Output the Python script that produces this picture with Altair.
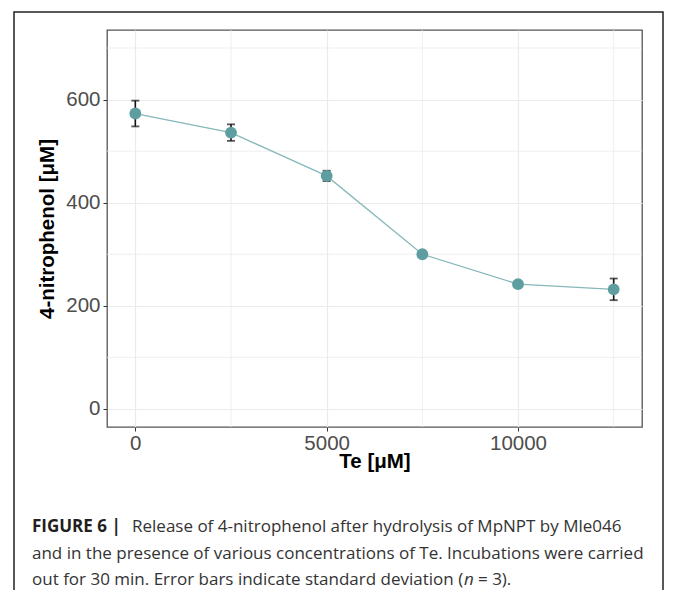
import altair as alt
import pandas as pd

# ---- data ----
te_um = [0, 2500, 5000, 7500, 10000, 12500]
nitrophenol = [573, 536, 452, 300, 242, 232]
sd = [25, 16, 10, 3, 4, 21]

y_major = [0, 200, 400, 600]
y_minor = [100, 300, 500, 700]
x_major = [0, 5000, 10000]
x_minor = [2500, 7500, 12500]

caption_bold = "FIGURE 6 |"
caption_lines = [
    "Release of 4-nitrophenol after hydrolysis of MpNPT by Mle046",
    "and in the presence of various concentrations of Te. Incubations were carried",
    "out for 30 min. Error bars indicate standard deviation (",
]
caption_italic = "n"
caption_tail = " = 3)."

df = pd.DataFrame({"Te": te_um, "mean": nitrophenol, "sd": sd})
df["lo"] = df["mean"] - df["sd"]
df["hi"] = df["mean"] + df["sd"]

FONT = "Liberation Sans"
CAPFONT = "Open Sans"
CAPSIZE = 17
TEAL = "#5f9ea0"

xscale = alt.Scale(domain=[-740, 13240], nice=False, zero=False)
yscale = alt.Scale(domain=[-35, 735], nice=False, zero=False)

xaxis = alt.Axis(values=x_major, title="Te [μM]", format="d",
                 labelFontSize=20.5, labelColor="#4d4d4d", labelFont=FONT,
                 labelPadding=2, tickSize=4, tickColor="#333333", tickWidth=1,
                 titleFont=FONT, titleFontSize=20.5, titleFontWeight="bold",
                 titleColor="#000000", titlePadding=-2, domain=False,
                 gridColor="#ebebeb", gridWidth=1.2)
yaxis = alt.Axis(values=y_major, title="4-nitrophenol [μM]", format="d",
                 labelFontSize=20.5, labelColor="#4d4d4d", labelFont=FONT,
                 labelPadding=3, tickSize=4, tickColor="#333333", tickWidth=1,
                 titleFont=FONT, titleFontSize=20.5, titleFontWeight="bold",
                 titleColor="#000000", titlePadding=8, domain=False,
                 gridColor="#ebebeb", gridWidth=1.2)

base = alt.Chart(df)

xminor = alt.Chart(pd.DataFrame({"Te": x_minor})).mark_rule(
    color="#ebebeb", strokeWidth=0.8).encode(x=alt.X("Te:Q", scale=xscale, axis=xaxis))
yminor = alt.Chart(pd.DataFrame({"mean": y_minor})).mark_rule(
    color="#ebebeb", strokeWidth=0.8).encode(y=alt.Y("mean:Q", scale=yscale, axis=yaxis))

line = base.mark_line(color="#86b8b9", strokeWidth=1.3).encode(
    x=alt.X("Te:Q", scale=xscale, axis=xaxis),
    y=alt.Y("mean:Q", scale=yscale, axis=yaxis),
)
err = base.mark_rule(color="#111111", strokeWidth=1.6).encode(
    x="Te:Q", y="lo:Q", y2="hi:Q")
cap_lo = base.mark_tick(color="#111111", orient="horizontal", size=8,
                        thickness=1.8).encode(x="Te:Q", y="lo:Q")
cap_hi = base.mark_tick(color="#111111", orient="horizontal", size=8,
                        thickness=1.8).encode(x="Te:Q", y="hi:Q")
pts = base.mark_circle(size=140, color=TEAL, opacity=1).encode(
    x="Te:Q", y="mean:Q")

one = alt.Data(values=[{"k": 1}])
frame = alt.Chart(one).mark_rect(fill=None, stroke="#222222", strokeWidth=1.5).encode(
    x=alt.value(-93), x2=alt.value(556), y=alt.value(-18), y2=alt.value(700))

def cap_text(txt, xpos, ypos, bold=False, italic=False):
    return alt.Chart(one).mark_text(
        text=txt, font=CAPFONT, fontSize=CAPSIZE,
        fontWeight="bold" if bold else "normal",
        fontStyle="italic" if italic else "normal",
        color="#231f20" if bold else "#333333",
        align="left", baseline="alphabetic").encode(
        x=alt.value(xpos), y=alt.value(ypos))

cap_layers = [
    cap_text(caption_bold, -75, 502, bold=True),
    cap_text(caption_lines[0], 25, 502),
    cap_text(caption_lines[1], -75, 529),
    cap_text(caption_lines[2], -75, 555),
    cap_text(caption_italic, 357, 555, italic=True),
    cap_text(caption_tail, 371, 555),
]

chart = alt.layer(xminor, yminor, line, err, cap_lo, cap_hi, pts, frame,
                  *cap_layers).properties(
    width=535, height=397,
    autosize=alt.AutoSizeParams(type="none"),
    padding={"left": 99, "top": 22, "right": 23, "bottom": 163},
    background="white",
).configure_view(stroke="#555555", strokeWidth=1.3)

chart.save("out.html", embed_options={"renderer": "svg", "actions": False})
